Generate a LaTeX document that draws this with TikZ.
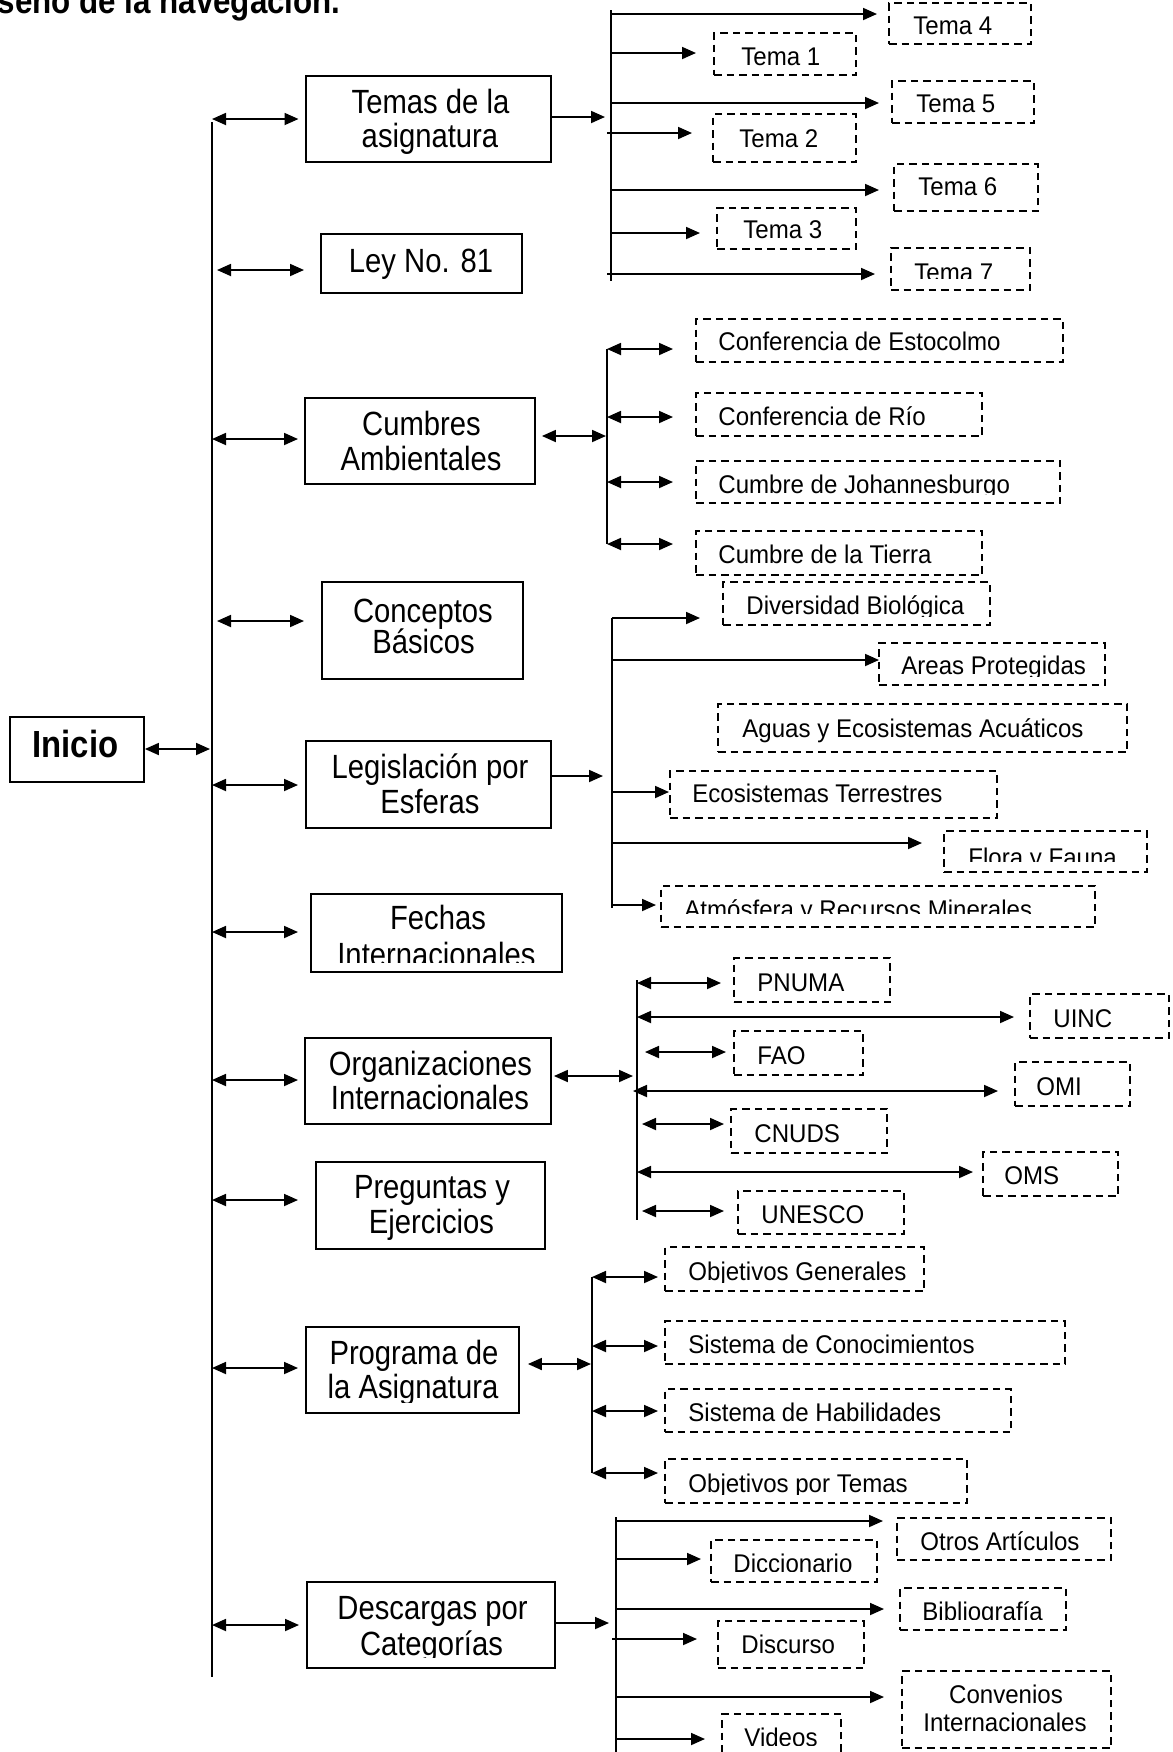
\documentclass[tikz,border=0pt]{standalone}
\usepackage{fontspec}
\setmainfont{Liberation Sans}
\newfontfamily\fmain{Liberation Sans}[FakeStretch=0.87]
\newfontfamily\fsub{Liberation Sans}[FakeStretch=0.94]
\usetikzlibrary{arrows.meta,fit}
\newcommand{\arr}[4]{\coordinate (#2) at (#3); \draw[#1] (#4 |- #2) -- (#2);}
\newcommand{\ctext}[5]{\begin{scope}\clip (#1,#2) rectangle (#3,#4); #5\end{scope}}
\tikzset{
  ln/.style={line width=0.9pt},
  mbox/.style={draw, line width=0.9pt, inner sep=0pt},
  dbox/.style={draw, line width=0.9pt, dash pattern=on 3.75pt off 2.5pt, inner sep=0pt},
  mtxt/.style={font=\fmain\fontsize{16.8}{17}\selectfont, inner sep=0pt, anchor=base},
  stxt/.style={font=\fsub\fontsize{12.8}{13}\selectfont, inner sep=0pt, anchor=base west},
  ctxt/.style={font=\fsub\fontsize{12.8}{13}\selectfont, inner sep=0pt, anchor=base},
  darr/.style={line width=0.9pt, {Triangle[length=7pt,width=6pt]}-{Triangle[length=7pt,width=6pt]}},
  sarr/.style={line width=0.9pt, -{Triangle[length=7pt,width=6pt]}},
}
\begin{document}
\begin{tikzpicture}[x=0.5pt,y=-0.5pt]
\clip (0,0) rectangle (1173,1752);
% title
\node[font=\fmain\bfseries\fontsize{18}{20}\selectfont, inner sep=0pt, anchor=base east] (title) at (341,13) {Diseño de la navegación.};
% Inicio
\node[mbox, fit={(10,717) (144,782)}] (inicio) {};
\node[font=\fmain\bfseries\fontsize{18.9}{20}\selectfont, inner sep=0pt, anchor=base] (inicio-t) at (75.5,757) {Inicio};
% main line
\coordinate (mt) at (212,122); \coordinate (mb) at (212,1677);
\draw[ln] (mt) -- (mb);
\coordinate (ia) at (210,749);
\draw[darr] (inicio.east |- ia) -- (ia);

% main boxes
\node[mbox, fit={(306,76) (551,162)}] (temas) {};
\node[mtxt] (temas-1) at (430.5,113) {Temas de la};
\node[mtxt] (temas-2) at (430,147) {asignatura};
\node[mbox, fit={(321,234) (522,293)}] (ley) {};
\node[mtxt] (ley-1) at (421,272) {Ley No. 81};
\node[mbox, fit={(305,398) (535,484)}] (cumbres) {};
\node[mtxt] (cumbres-1) at (421.5,435) {Cumbres};
\node[mtxt] (cumbres-2) at (421,470) {Ambientales};
\node[mbox, fit={(322,582) (523,679)}] (conceptos) {};
\node[mtxt] (conceptos-1) at (423,622) {Conceptos};
\node[mtxt] (conceptos-2) at (423.5,653) {Básicos};
\node[mbox, fit={(306,741) (551,828)}] (legis) {};
\node[mtxt] (legis-1) at (430,778) {Legislación por};
\node[mtxt] (legis-2) at (430,813) {Esferas};
\node[mbox, fit={(311,894) (562,972)}] (fechas) {};
\node[mtxt] (fechas-1) at (438,929) {Fechas};
\ctext{311}{894}{562}{962}{\node[mtxt] (fechas-2) at (436.5,966) {Internacionales};}
\node[mbox, fit={(305,1038) (551,1124)}] (org) {};
\node[mtxt] (org-1) at (430.5,1075) {Organizaciones};
\node[mtxt] (org-2) at (430,1109) {Internacionales};
\node[mbox, fit={(316,1162) (545,1249)}] (preg) {};
\node[mtxt] (preg-1) at (432,1198) {Preguntas y};
\node[mtxt] (preg-2) at (431.5,1233) {Ejercicios};
\node[mbox, fit={(306,1327) (519,1413)}] (prog) {};
\node[mtxt] (prog-1) at (414,1364) {Programa de};
\ctext{306}{1327}{519}{1402}{\node[mtxt] (prog-2) at (413,1398) {la Asignatura};}
\node[mbox, fit={(307,1582) (555,1668)}] (desc) {};
\node[mtxt] (desc-1) at (432.5,1619) {Descargas por};
\ctext{307}{1582}{555}{1657}{\node[mtxt] (desc-2) at (431.5,1655) {Categorías};}

% main arrows
\arr{darr}{m-temas}{298.5,119}{mt}
\coordinate (m-ley-s) at (217,270); \coordinate (m-ley) at (304,270);
\draw[darr] (m-ley-s) -- (m-ley);
\arr{darr}{m-cumbres}{298,439}{mt}
\coordinate (m-conc-s) at (217,621); \coordinate (m-conc) at (304,621);
\draw[darr] (m-conc-s) -- (m-conc);
\arr{darr}{m-legis}{298,785}{mt}
\arr{darr}{m-fechas}{298,932}{mt}
\arr{darr}{m-org}{298,1080}{mt}
\arr{darr}{m-preg}{298,1200}{mt}
\arr{darr}{m-prog}{298,1368}{mt}
\arr{darr}{m-desc}{299,1625}{mt}

% box-to-bus arrows
\coordinate (temas-in) at (605,117);
\draw[sarr] (temas.east |- temas-in) -- (temas-in);
\coordinate (cum-in) at (606,436);
\draw[darr] ([xshift=3pt]cumbres.east |- cum-in) -- (cum-in);
\coordinate (leg-in) at (603,776);
\draw[sarr] (legis.east |- leg-in) -- (leg-in);
\coordinate (org-in) at (633,1076);
\draw[darr] ([xshift=1pt]org.east |- org-in) -- (org-in);
\coordinate (prog-in) at (591,1364);
\draw[darr] ([xshift=4pt]prog.east |- prog-in) -- (prog-in);
\coordinate (desc-in) at (609,1623);
\draw[sarr] (desc.east |- desc-in) -- (desc-in);

% ---- Temas group
\coordinate (tb1) at (611,10); \coordinate (tb2) at (611,281);
\draw[ln] (tb1) -- (tb2);
\arr{sarr}{a-t4}{877,14}{tb1}
\arr{sarr}{a-t1}{696,53}{tb1}
\arr{sarr}{a-t5}{879,103}{tb1}
\coordinate (a-t2s) at (607,133); \coordinate (a-t2) at (692,133);
\draw[sarr] (a-t2s) -- (a-t2);
\arr{sarr}{a-t6}{879,190}{tb1}
\arr{sarr}{a-t3}{700,233}{tb1}
\coordinate (a-t7s) at (607,274); \coordinate (a-t7) at (875,274);
\draw[sarr] (a-t7s) -- (a-t7);
\node[dbox, fit={(889,3) (1031,44)}] (t4) {};
\node[stxt] (t4-t) at (913,34) {Tema 4};
\node[dbox, fit={(714,33) (856,75)}] (t1) {};
\node[stxt] (t1-t) at (741,65) {Tema 1};
\node[dbox, fit={(892,81) (1034,123)}] (t5) {};
\node[stxt] (t5-t) at (916,112) {Tema 5};
\node[dbox, fit={(713,114) (856,162)}] (t2) {};
\node[stxt] (t2-t) at (739,147) {Tema 2};
\node[dbox, fit={(894,164) (1038,211)}] (t6) {};
\node[stxt] (t6-t) at (918,195) {Tema 6};
\node[dbox, fit={(717,208) (856,249)}] (t3) {};
\node[stxt] (t3-t) at (743,238) {Tema 3};
\node[dbox, fit={(891,248) (1030,290)}] (t7) {};
\ctext{891}{248}{1030}{278}{\node[stxt] (t7-t) at (914,281) {Tema 7};}

% ---- Cumbres group
\coordinate (cb1) at (607,349); \coordinate (cb2) at (607,544);
\draw[ln] (cb1) -- (cb2);
\arr{darr}{a-ce}{673,349}{cb1}
\arr{darr}{a-cr}{673,417}{cb1}
\arr{darr}{a-cj}{673,482}{cb1}
\arr{darr}{a-ct}{673,544}{cb1}
\node[dbox, fit={(696,319) (1063,362)}] (ce) {};
\node[stxt] (ce-t) at (718,350) {Conferencia de Estocolmo};
\node[dbox, fit={(696,393) (982,436)}] (cr) {};
\node[stxt] (cr-t) at (718,425) {Conferencia de Río};
\node[dbox, fit={(696,461) (1060,503)}] (cj) {};
\ctext{696}{461}{1060}{494}{\node[stxt] (cj-t) at (718,493) {Cumbre de Johannesburgo};}
\node[dbox, fit={(696,531) (982,575)}] (ct) {};
\node[stxt] (ct-t) at (718,563) {Cumbre de la Tierra};

% ---- Legislacion group
\coordinate (lb1) at (612,618); \coordinate (lb2) at (612,908);
\draw[ln] (lb1) -- (lb2);
\arr{sarr}{a-div}{700,618}{lb1}
\arr{sarr}{a-areas}{879,660}{lb1}
\arr{sarr}{a-ecot}{669,792}{lb1}
\arr{sarr}{a-flora}{922,843}{lb1}
\arr{sarr}{a-atm}{656,905}{lb1}
\node[dbox, fit={(723,582) (990,625)}] (div) {};
\ctext{723}{582}{990}{616}{\node[stxt] (div-t) at (746,614) {Diversidad Biológica};}
\node[dbox, fit={(879,643) (1105,685)}] (areas) {};
\ctext{879}{643}{1105}{676}{\node[stxt] (areas-t) at (901,674) {Areas Protegidas};}
\node[dbox, fit={(718,704) (1127,752)}] (aguas) {};
\node[stxt] (aguas-t) at (742,737) {Aguas y Ecosistemas Acuáticos};
\node[dbox, fit={(670,771) (997,818)}] (ecot) {};
\node[stxt] (ecot-t) at (692,802) {Ecosistemas Terrestres};
\node[dbox, fit={(944,831) (1147,872)}] (flora) {};
\ctext{944}{831}{1147}{861}{\node[stxt] (flora-t) at (968,866) {Flora y Fauna};}
\node[dbox, fit={(661,886) (1095,927)}] (atm) {};
\ctext{661}{886}{1095}{913}{\node[stxt] (atm-t) at (684,918) {Atmósfera y Recursos Minerales};}

% ---- Organizaciones group
\coordinate (ob1) at (637,980); \coordinate (ob2) at (637,1220);
\draw[ln] (ob1) -- (ob2);
\arr{darr}{a-pnuma}{721,983}{ob1}
\arr{darr}{a-uinc}{1014,1017}{ob1}
\coordinate (a-faos) at (645,1052); \coordinate (a-fao) at (726,1052);
\draw[darr] (a-faos) -- (a-fao);
\coordinate (a-omis) at (633,1091); \coordinate (a-omi) at (998,1091);
\draw[darr] (a-omis) -- (a-omi);
\coordinate (a-cnudss) at (642,1124); \coordinate (a-cnuds) at (724,1124);
\draw[darr] (a-cnudss) -- (a-cnuds);
\arr{darr}{a-oms}{973,1172}{ob1}
\coordinate (a-unescos) at (642,1211); \coordinate (a-unesco) at (724,1211);
\draw[darr] (a-unescos) -- (a-unesco);
\node[dbox, fit={(734,958) (890,1002)}] (pnuma) {};
\node[stxt] (pnuma-t) at (757,991) {PNUMA};
\node[dbox, fit={(1030,994) (1169,1038)}] (uinc) {};
\node[stxt] (uinc-t) at (1053,1027) {UINC};
\node[dbox, fit={(734,1031) (863,1075)}] (fao) {};
\node[stxt] (fao-t) at (757,1064) {FAO};
\node[dbox, fit={(1015,1062) (1130,1106)}] (omi) {};
\node[stxt] (omi-t) at (1036,1095) {OMI};
\node[dbox, fit={(731,1109) (887,1153)}] (cnuds) {};
\node[stxt] (cnuds-t) at (754,1142) {CNUDS};
\node[dbox, fit={(983,1152) (1118,1196)}] (oms) {};
\node[stxt] (oms-t) at (1004,1184) {OMS};
\node[dbox, fit={(738,1191) (904,1234)}] (unesco) {};
\node[stxt] (unesco-t) at (761,1223) {UNESCO};

% ---- Programa group
\coordinate (pb1) at (592,1277); \coordinate (pb2) at (592,1473);
\draw[ln] (pb1) -- (pb2);
\arr{darr}{a-og}{658,1277}{pb1}
\arr{darr}{a-sc}{658,1346}{pb1}
\arr{darr}{a-sh}{658,1411}{pb1}
\arr{darr}{a-ot}{658,1473}{pb1}
\node[dbox, fit={(665,1247) (924,1291)}] (og) {};
\ctext{665}{1247}{924}{1282}{\node[stxt] (og-t) at (688,1280) {Objetivos Generales};}
\node[dbox, fit={(665,1321) (1065,1364)}] (sc) {};
\node[stxt] (sc-t) at (688,1353) {Sistema de Conocimientos};
\node[dbox, fit={(665,1389) (1011,1432)}] (sh) {};
\node[stxt] (sh-t) at (688,1421) {Sistema de Habilidades};
\node[dbox, fit={(665,1459) (967,1503)}] (ot) {};
\ctext{665}{1459}{967}{1494}{\node[stxt] (ot-t) at (688,1492) {Objetivos por Temas};}

% ---- Descargas group
\coordinate (db1) at (616,1517); \coordinate (db2) at (616,1752);
\draw[ln] (db1) -- (db2);
\arr{sarr}{a-otros}{883,1521}{db1}
\arr{sarr}{a-dicc}{701,1559}{db1}
\arr{sarr}{a-biblio}{884,1609}{db1}
\coordinate (a-discs) at (612,1639); \coordinate (a-disc) at (697,1639);
\draw[sarr] (a-discs) -- (a-disc);
\arr{sarr}{a-conv}{884,1697}{db1}
\arr{sarr}{a-videos}{705,1739}{db1}
\node[dbox, fit={(897,1518) (1111,1560)}] (otros) {};
\node[stxt] (otros-t) at (920,1550) {Otros Artículos};
\node[dbox, fit={(711,1540) (877,1582)}] (dicc) {};
\ctext{711}{1540}{877}{1571}{\node[stxt] (dicc-t) at (733,1572) {Diccionario};}
\node[dbox, fit={(900,1588) (1066,1630)}] (biblio) {};
\ctext{900}{1588}{1066}{1619}{\node[stxt] (biblio-t) at (922,1620) {Bibliografía};}
\node[dbox, fit={(718,1621) (864,1668)}] (disc) {};
\node[stxt] (disc-t) at (741,1653) {Discurso};
\node[dbox, fit={(902,1671) (1111,1748)}] (conv) {};
\node[ctxt] (conv-1) at (1006,1703) {Convenios};
\node[ctxt] (conv-2) at (1005,1731) {Internacionales};
\node[dbox, fit={(722,1714) (841,1770)}] (videos) {};
\ctext{722}{1714}{841}{1745}{\node[stxt] (videos-t) at (744,1746) {Videos};}
\end{tikzpicture}
\end{document}
